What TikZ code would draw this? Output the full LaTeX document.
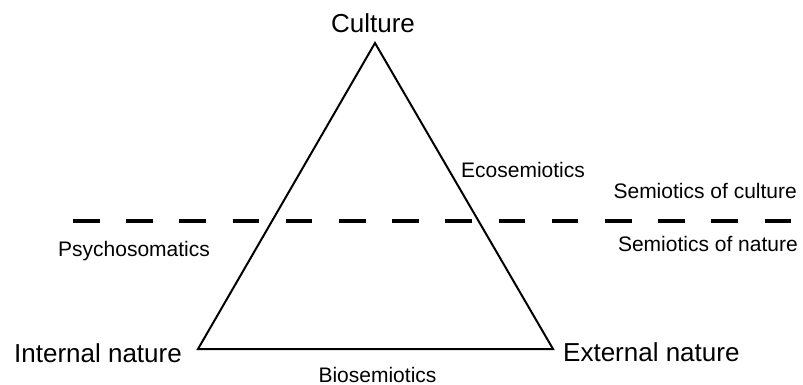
\documentclass[tikz,border=0pt]{standalone}
\usepackage{fontspec}
\setmainfont{Liberation Sans}
\begin{document}
\begin{tikzpicture}[x=1pt,y=-1pt,
  big/.style={font=\fontsize{26}{30}\selectfont, inner sep=0pt},
  small/.style={font=\fontsize{21}{25}\selectfont, inner sep=0pt},
  tri/.style={draw=black, line width=2pt, line join=miter},
  divider/.style={draw=black, line width=4pt, dash pattern=on 26.5pt off 26.7pt}]
\useasboundingbox (0,0) rectangle (803,385);
\coordinate (apex) at (375,43);
\coordinate (bl) at (198,349);
\coordinate (br) at (553,349);
\coordinate (dl) at (73,221);
\coordinate (dr) at (791,221);
\draw[tri] (apex) -- (bl) -- (br) -- cycle;
\draw[divider] (dl) -- (dr);
\node[big, anchor=base] (culture) at (373,33) {Culture};
\node[big, anchor=base east] (internal) at (182,362) {Internal nature};
\node[big, anchor=base west] (external) at (563,361) {External nature};
\node[small, anchor=base] (bio) at (377.5,382) {Biosemiotics};
\node[small, anchor=base west] (eco) at (461,177) {Ecosemiotics};
\node[small, anchor=base east] (soc) at (797,198) {Semiotics of culture};
\node[small, anchor=base east] (son) at (798,251) {Semiotics of nature};
\node[small, anchor=base west] (psy) at (58,256.5) {Psychosomatics};
\end{tikzpicture}
\end{document}
